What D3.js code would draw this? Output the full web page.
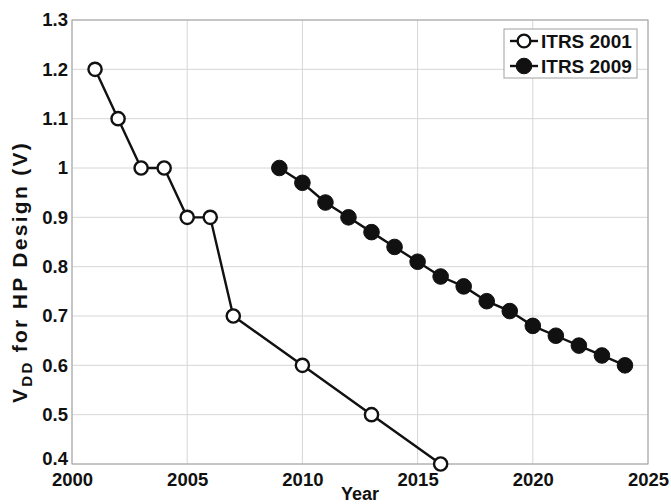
<!DOCTYPE html>
<html><head><meta charset="utf-8">
<script src="https://cdn.jsdelivr.net/npm/d3@7"></script>
<style>body{margin:0;background:#fff;}svg{display:block;font-family:"Liberation Sans",Arial,sans-serif;}</style>
</head><body>
<svg id="c" width="671" height="504"></svg>
<script>
const years2001 = [2001,2002,2003,2004,2005,2006,2007,2010,2013,2016];
const vdd2001 = [1.2,1.1,1.0,1.0,0.9,0.9,0.7,0.6,0.5,0.4];
const years2009 = [2009,2010,2011,2012,2013,2014,2015,2016,2017,2018,2019,2020,2021,2022,2023,2024];
const vdd2009 = [1.0,0.97,0.93,0.90,0.87,0.84,0.81,0.78,0.76,0.73,0.71,0.68,0.66,0.64,0.62,0.60];
const xTicks = [2000,2005,2010,2015,2020,2025];
const yTicks = [0.4,0.5,0.6,0.7,0.8,0.9,1.0,1.1,1.2,1.3];
const seriesNames = ["ITRS 2001","ITRS 2009"];

const svg = d3.select("#c");
const L=72,R=648,T=20,B=464;
const x = d3.scaleLinear().domain([2000,2025]).range([L,R]);
const y = d3.scaleLinear().domain([0.4,1.3]).range([B,T]);
const ink = "#111";

// grid
svg.append("g").selectAll("line").data(xTicks).join("line")
  .attr("x1",d=>x(d)).attr("x2",d=>x(d)).attr("y1",T).attr("y2",B)
  .attr("stroke","#d6d6d6").attr("stroke-width",1);
svg.append("g").selectAll("line").data(yTicks).join("line")
  .attr("x1",L).attr("x2",R).attr("y1",d=>y(d)).attr("y2",d=>y(d))
  .attr("stroke","#d6d6d6").attr("stroke-width",1);
svg.append("rect").attr("x",L).attr("y",T).attr("width",R-L).attr("height",B-T)
  .attr("fill","none").attr("stroke","#a0a0a0").attr("stroke-width",1);

// axes
const xa = svg.append("g").attr("transform",`translate(0,${B})`)
  .call(d3.axisBottom(x).tickValues(xTicks).tickFormat(d3.format("d")).tickSize(0).tickPadding(9));
const ya = svg.append("g").attr("transform",`translate(${L},0)`)
  .call(d3.axisLeft(y).tickValues(yTicks).tickFormat(d=>String(+d.toFixed(1))).tickSize(0).tickPadding(4));
[xa,ya].forEach(a=>{a.select(".domain").remove();
  a.selectAll("text").attr("font-size",18.5).attr("font-weight","bold").attr("fill",ink)
   .attr("font-family","'Liberation Sans',Arial,sans-serif");});
ya.selectAll(".tick").filter(d=>d===0.4).select("text").attr("dy","0.05em");

// axis titles
svg.append("text").attr("x",360).attr("y",500).attr("text-anchor","middle")
  .attr("font-size",18).attr("font-weight","bold").attr("fill",ink).text("Year");
const yl = svg.append("text").attr("transform",`translate(27,272) rotate(-90)`)
  .attr("text-anchor","middle").attr("font-size",21).attr("font-weight","bold")
  .attr("letter-spacing",2.3).attr("fill",ink);
yl.append("tspan").text("V");
yl.append("tspan").attr("font-size",15).attr("dy",5).text("DD");
yl.append("tspan").attr("dy",-5).text(" for HP Design (V)");

// series
const line = d3.line().x(d=>x(d[0])).y(d=>y(d[1]));
const s1 = years2001.map((d,i)=>[d,vdd2001[i]]);
const s2 = years2009.map((d,i)=>[d,vdd2009[i]]);
svg.append("path").datum(s1).attr("d",line).attr("fill","none").attr("stroke",ink).attr("stroke-width",2.4);
svg.append("g").selectAll("circle").data(s1).join("circle")
  .attr("cx",d=>x(d[0])).attr("cy",d=>y(d[1])).attr("r",6.6)
  .attr("fill","#fff").attr("stroke",ink).attr("stroke-width",2.4);
svg.append("path").datum(s2).attr("d",line).attr("fill","none").attr("stroke",ink).attr("stroke-width",2.4);
svg.append("g").selectAll("circle").data(s2).join("circle")
  .attr("cx",d=>x(d[0])).attr("cy",d=>y(d[1])).attr("r",7.8)
  .attr("fill",ink).attr("stroke",ink).attr("stroke-width",1);

// legend
const lg = svg.append("g");
lg.append("rect").attr("x",504).attr("y",29).attr("width",133).attr("height",49)
  .attr("fill","#fff").attr("stroke","#a0a0a0").attr("stroke-width",1);
seriesNames.forEach((n,i)=>{
  const cy = 41 + i*25;
  lg.append("line").attr("x1",510).attr("x2",538).attr("y1",cy).attr("y2",cy).attr("stroke",ink).attr("stroke-width",2.4);
  lg.append("circle").attr("cx",524).attr("cy",cy).attr("r",i===0?6.4:7.8)
    .attr("fill",i===0?"#fff":ink).attr("stroke",ink).attr("stroke-width",i===0?2.4:1);
  lg.append("text").attr("x",541).attr("y",cy+7).attr("font-size",19).attr("font-weight","bold").attr("fill",ink).text(n);
});
</script>
</body></html>
